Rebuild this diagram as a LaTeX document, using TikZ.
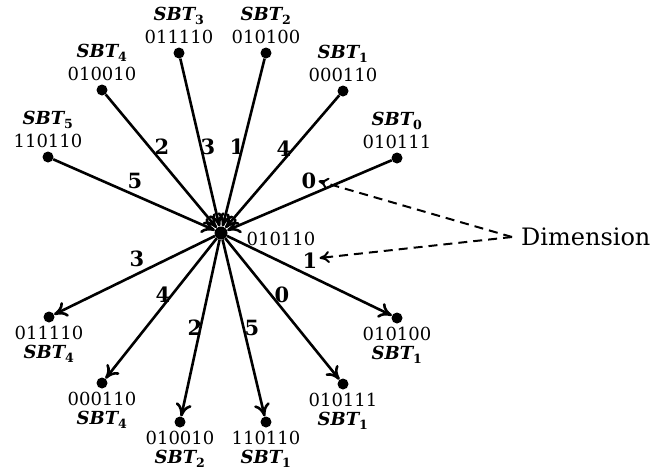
\documentclass[tikz,border=0pt]{standalone}
\usepackage{fontspec}
\setmainfont{DejaVu Serif}
\usetikzlibrary{arrows.meta,calc}
\newcommand{\sbtname}[1]{{\bfseries\itshape SBT}\textsubscript{\bfseries #1}}
\tikzset{
  dot/.style={circle,fill=black,inner sep=0pt,minimum size=11pt},
  cdot/.style={circle,fill=black,inner sep=0pt,minimum size=13pt},
  conn/.style={line width=2.6pt,-{To[length=13pt,width=16pt]}},
  txt/.style={font=\fontsize{18}{21}\selectfont,inner sep=0pt},
  elbl/.style={font=\fontsize{21}{24}\selectfont\bfseries,inner sep=0pt},
  dimtxt/.style={font=\fontsize{24}{28}\selectfont,inner sep=0pt,anchor=west},
  dimarrow/.style={line width=2pt,dash pattern=on 9pt off 6pt,-{To[length=10pt,width=12pt]}}
}
\begin{document}
\begin{tikzpicture}[x=1pt,y=-1pt]
\useasboundingbox (0,0) rectangle (654,475);
\node[cdot] (c) at (221,233) {};
% top dots
\node[dot] (t5) at (48,157) {};
\node[dot] (t4) at (102,90) {};
\node[dot] (t3) at (179,53) {};
\node[dot] (t2) at (266,53) {};
\node[dot] (t1) at (343,91) {};
\node[dot] (t0) at (397,158) {};
% bottom dots
\node[dot] (b3) at (49,317) {};
\node[dot] (b4) at (102,383) {};
\node[dot] (b2) at (180,422) {};
\node[dot] (b5) at (266,422) {};
\node[dot] (b0) at (343,384) {};
\node[dot] (b1) at (397,318) {};
% top labels
\foreach \d/\s/\v in {t5/5/110110, t4/4/010010, t3/3/011110, t2/2/010100, t1/1/000110, t0/0/010111}{
  \node[txt] (\d num) at ($(\d)+(0,-16)$) {\v};
  \node[txt] (\d name) at ($(\d)+(0,-37)$) {\sbtname{\s}};
}
% bottom labels
\foreach \d/\s/\v in {b3/4/011110, b4/4/000110, b2/2/010010, b5/1/110110, b0/1/010111, b1/1/010100}{
  \node[txt] (\d num) at ($(\d)+(0,16)$) {\v};
  \node[txt] (\d name) at ($(\d)+(0,37)$) {\sbtname{\s}};
}
% connectors
\foreach \n in {t0,t1,t2,t3,t4,t5}{ \draw[conn] (\n) -- (c); }
\foreach \n in {b0,b1,b2,b3,b4,b5}{ \draw[conn] (c) -- (\n); }
% edge labels
\node[elbl] (lt5) at (135,181) {5};
\node[elbl] (lt4) at (162,147) {2};
\node[elbl] (lt3) at (208,147) {3};
\node[elbl] (lt2) at (237,147) {1};
\node[elbl] (lt1) at (284,149) {4};
\node[elbl] (lt0) at (309,181) {0};
\node[elbl] (lb3) at (137,259) {3};
\node[elbl] (lb4) at (163,295) {4};
\node[elbl] (lb2) at (195,328) {2};
\node[elbl] (lb5) at (252,328) {5};
\node[elbl] (lb0) at (282,295) {0};
\node[elbl] (lb1) at (310,261) {1};
% centre label
\node[txt] (cl) at (281,239) {010110};
% dimension
\node[dimtxt] (dim) at (521,237) {Dimension};
\coordinate (dsrc) at (512,237);
\draw[dimarrow] (dsrc) -- ($(lt0.east)+(2,0)$);
\draw[dimarrow] (dsrc) -- ($(lb1.east)+(2,-3)$);
\end{tikzpicture}
\end{document}
